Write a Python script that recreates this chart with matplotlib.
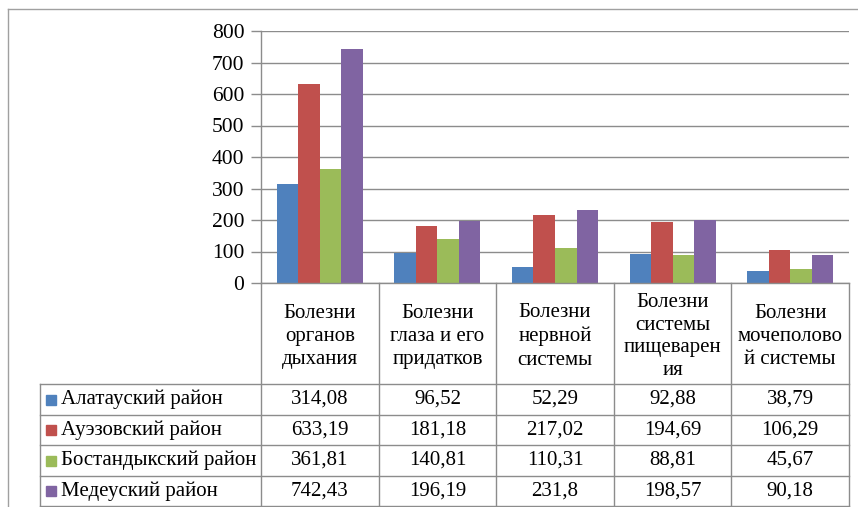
import matplotlib
matplotlib.use("Agg")
import matplotlib.pyplot as plt
from matplotlib.transforms import blended_transform_factory
from matplotlib.lines import Line2D
from matplotlib.patches import Rectangle

plt.rcParams['font.family'] = ['Liberation Serif', 'DejaVu Serif']

categories = ["Болезни\nорганов\nдыхания",
              "Болезни\nглаза и его\nпридатков",
              "Болезни\nнервной\nсистемы",
              "Болезни\nсистемы\nпищеварен\nия",
              "Болезни\nмочеполово\nй системы"]
series_names = ["Алатауский район", "Ауэзовский район",
                "Бостандыкский район", "Медеуский район"]
almaly = [314.08, 96.52, 52.29, 92.88, 38.79]
auezov = [633.19, 181.18, 217.02, 194.69, 106.29]
bostandyk = [361.81, 140.81, 110.31, 88.81, 45.67]
medeu = [742.43, 196.19, 231.8, 198.57, 90.18]
value_labels = [["314,08", "96,52", "52,29", "92,88", "38,79"],
                ["633,19", "181,18", "217,02", "194,69", "106,29"],
                ["361,81", "140,81", "110,31", "88,81", "45,67"],
                ["742,43", "196,19", "231,8", "198,57", "90,18"]]
series = [almaly, auezov, bostandyk, medeu]
colors = ["#4F81BD", "#C0504D", "#9BBB59", "#8064A2"]
yticks = [0, 100, 200, 300, 400, 500, 600, 700, 800]

W, H = 858, 507
fig = plt.figure(figsize=(W / 100, H / 100), dpi=100)
fig.patch.set_facecolor("white")

def fx(px):
    return px / W

def fy(py):
    return 1 - py / H

FS = 15
left, right, top, bottom = 261, 849, 31, 283
ax = fig.add_axes([fx(left), fy(bottom), fx(right - left), (bottom - top) / H])
ax.set_xlim(-0.5, len(categories) - 0.5)
ax.set_ylim(0, 800)

grid_c = "#8C8C8C"
bw = 0.183
for i, (vals, c) in enumerate(zip(series, colors)):
    xs = [k + (i - 1.5) * bw for k in range(len(categories))]
    ax.bar(xs, vals, width=bw, color=c, edgecolor="none", zorder=3)

ax.set_yticks(yticks)
ax.set_yticklabels([str(t) for t in yticks], fontsize=15.5)
ax.set_xticks([])
ax.yaxis.grid(True, color=grid_c, linewidth=1.0, zorder=0)
ax.tick_params(axis="y", direction="out", length=7, width=1.0, color=grid_c, pad=5)
for s in ["top", "right", "bottom"]:
    ax.spines[s].set_visible(False)
ax.spines["left"].set_color(grid_c)
ax.spines["left"].set_linewidth(1.0)

# data table under the plot
tb = blended_transform_factory(ax.transData, fig.transFigure)
row_y = [384, 415, 445, 476, 506]
table_left = 40
line_kw = dict(color=grid_c, linewidth=1.0, clip_on=False)
n = len(categories)

# header row boundaries
fig.add_artist(Line2D([-0.5, n - 0.5], [fy(bottom)] * 2, transform=tb, **line_kw))
for k in range(n + 1):
    fig.add_artist(Line2D([k - 0.5] * 2, [fy(bottom), fy(row_y[-1])], transform=tb, **line_kw))
for y in row_y:
    fig.add_artist(Line2D([fx(table_left), fx(right)], [fy(y)] * 2,
                          transform=fig.transFigure, **line_kw))
fig.add_artist(Line2D([fx(table_left)] * 2, [fy(row_y[0]), fy(row_y[-1])],
                      transform=fig.transFigure, **line_kw))

# category headers
for k, name in enumerate(categories):
    nl = name.count("\n") + 1
    fig.text(k, fy((bottom + row_y[0]) / 2 + 3), name, transform=tb, ha="center",
             va="center", fontsize=FS, linespacing=1.31 if nl < 4 else 1.25,
             multialignment="center")

# series rows with legend keys
for r, (name, c) in enumerate(zip(series_names, colors)):
    yc = fy((row_y[r] + row_y[r + 1]) / 2)
    fig.add_artist(Rectangle((fx(46), yc - 5 / H), 10 / W, 10 / H,
                             transform=fig.transFigure, color=c))
    fig.text(fx(61), yc, name, ha="left", va="center", fontsize=FS)
    for k in range(n):
        fig.text(k, yc, value_labels[r][k], transform=tb, ha="center",
                 va="center", fontsize=FS)

# chart area border
fig.add_artist(Line2D([fx(8), 1.0], [fy(9)] * 2, transform=fig.transFigure,
                      color="#A0A0A0", linewidth=1.0))
fig.add_artist(Line2D([fx(8)] * 2, [fy(9), 0.0], transform=fig.transFigure,
                      color="#A0A0A0", linewidth=1.0))

fig.savefig("out.png", dpi=100)
